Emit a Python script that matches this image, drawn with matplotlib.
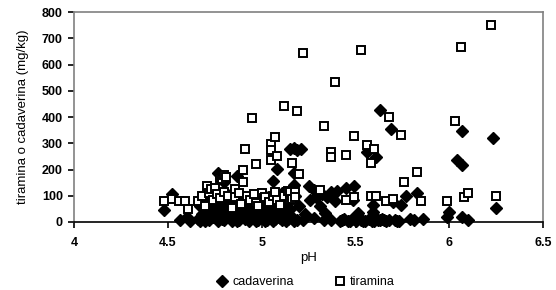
import numpy as np
import matplotlib
matplotlib.use("Agg")
from matplotlib import pyplot as plt
from matplotlib.ticker import FormatStrFormatter

plt.rcParams['font.family'] = ['Liberation Sans', 'DejaVu Sans']

# cadaverina (diamonds): pH, mg/kg
ph_cad = [4.48, 4.52, 4.565, 4.60, 4.62, 4.66, 4.68, 4.69, 4.70, 4.71, 4.72, 4.73, 4.74, 4.75,
          4.76, 4.77, 4.77, 4.78, 4.79, 4.80, 4.80, 4.81, 4.82, 4.83, 4.84, 4.85, 4.86, 4.87,
          4.87, 4.88, 4.89, 4.90, 4.91, 4.92, 4.93, 4.94, 4.95, 4.96, 4.97, 4.98, 4.99, 5.00,
          5.01, 5.02, 5.03, 5.04, 5.05, 5.06, 5.06, 5.07, 5.08, 5.08, 5.09, 5.10, 5.11, 5.12,
          5.13, 5.14, 5.15, 5.15, 5.16, 5.16, 5.17, 5.17, 5.17, 5.18, 5.19, 5.19, 5.20, 5.21,
          5.22, 5.23, 5.25, 5.26, 5.28, 5.28, 5.29, 5.31, 5.33, 5.34, 5.35, 5.37, 5.39, 5.40,
          5.42, 5.44, 5.45, 5.46, 5.48, 5.485, 5.49, 5.50, 5.515, 5.53, 5.55, 5.56, 5.57, 5.59,
          5.595, 5.595, 5.61, 5.62, 5.63, 5.64, 5.65, 5.68, 5.69, 5.70, 5.72, 5.74, 5.77, 5.79,
          5.81, 5.83, 5.86, 5.99, 6.00, 6.04, 6.07, 6.07, 6.07, 6.10, 6.23, 6.25,
          # dense bottom band and low cluster
          4.67, 4.69, 4.72, 4.74, 4.77, 4.79, 4.81, 4.84, 4.86, 4.88, 4.90, 4.93, 4.95, 4.98,
          5.00, 5.02, 5.04, 5.06, 5.09, 5.11, 5.14, 5.17, 5.43, 5.47, 5.51, 5.54, 5.58, 5.60,
          5.63, 5.66, 5.71, 5.73, 4.67, 4.70, 4.73, 4.76, 4.79, 4.82, 4.85, 4.88, 4.91, 4.94,
          4.97, 5.00, 5.03, 5.07, 5.12, 5.32, 5.37]
cad = [46, 107, 8, 20, 5, 12, 30, 80, 5, 55, 100, 18, 70, 40,
       10, 185, 90, 25, 60, 154, 8, 110, 45, 15, 75, 30, 95, 177,
       5, 55, 20, 85, 10, 40, 65, 12, 100, 30, 5, 50, 80, 15,
       35, 100, 8, 60, 25, 156, 90, 10, 201, 45, 70, 15, 110, 35,
       5, 85, 278, 50, 128, 20, 281, 188, 141, 100, 276, 8, 60, 280,
       8, 30, 137, 84, 14, 122, 96, 60, 8, 33, 96, 8, 80, 118,
       5, 10, 128, 3, 12, 84, 138, 5, 33, 8, 4, 265, 10, 5,
       65, 39, 249, 8, 427, 12, 8, 8, 353, 77, 5, 65, 100, 10,
       8, 109, 10, 20, 39, 236, 217, 348, 20, 8, 319, 52,
       3, 15, 6, 20, 4, 12, 22, 5, 15, 8, 25, 4, 18, 8,
       22, 5, 14, 3, 20, 6, 12, 4, 8, 3, 10, 5, 12, 4,
       7, 3, 9, 4, 60, 95, 50, 75, 100, 70, 110, 85, 60, 90,
       75, 60, 85, 70, 65, 105, 115]

# tiramina (open squares): pH, mg/kg
ph_tir = [4.48, 4.52, 4.56, 4.59, 4.61, 4.66, 4.68, 4.70, 4.71, 4.72, 4.73, 4.74, 4.75, 4.76,
          4.78, 4.78, 4.79, 4.80, 4.80, 4.81, 4.82, 4.84, 4.86, 4.86, 4.88, 4.89, 4.90, 4.90,
          4.91, 4.92, 4.94, 4.95, 4.96, 4.97, 4.97, 4.98, 5.00, 5.01, 5.02, 5.04, 5.05, 5.05,
          5.05, 5.06, 5.07, 5.07, 5.08, 5.08, 5.10, 5.12, 5.12, 5.14, 5.15, 5.15, 5.16, 5.16,
          5.18, 5.18, 5.19, 5.20, 5.22, 5.31, 5.33, 5.37, 5.37, 5.39, 5.45, 5.45, 5.49, 5.49,
          5.53, 5.56, 5.58, 5.58, 5.60, 5.61, 5.66, 5.68, 5.70, 5.74, 5.76, 5.83, 5.85, 5.99,
          6.03, 6.06, 6.08, 6.10, 6.22, 6.25]
tir = [80, 88, 80, 80, 48, 80, 100, 60, 138, 110, 125, 85, 128, 105,
       166, 90, 163, 179, 115, 173, 100, 55, 126, 95, 110, 70, 198, 154,
       278, 100, 85, 395, 105, 220, 71, 60, 110, 90, 95, 75, 297, 274,
       238, 100, 323, 113, 251, 85, 65, 442, 100, 120, 115, 84, 226, 88,
       115, 95, 423, 182, 644, 122, 366, 268, 249, 534, 255, 84, 328, 96,
       655, 293, 223, 99, 278, 99, 80, 400, 88, 331, 151, 189, 81, 81,
       386, 665, 94, 112, 750, 99]

fig = plt.figure(figsize=(5.56, 2.90), dpi=100)
ax = fig.add_axes([0.133, 0.2345, 0.844, 0.724])

ax.plot(ph_cad, cad, linestyle='none', marker='D', markersize=6,
        color='black', label='cadaverina', clip_on=False)
ax.plot(ph_tir, tir, linestyle='none', marker='s', markersize=5.2,
        markerfacecolor='white', markeredgecolor='black', markeredgewidth=1.4,
        label='tiramina', clip_on=False)

ax.set_xlim(4, 6.5)
ax.set_ylim(0, 800)
ax.set_xticks(np.arange(4, 6.51, 0.5))
ax.set_yticks(np.arange(0, 801, 100))
ax.xaxis.set_major_formatter(FormatStrFormatter('%g'))
ax.tick_params(direction='out', length=4.5, width=1.2, labelsize=9, color='black')
ax.tick_params(axis='x', pad=6)
ax.tick_params(axis='y', pad=3.5)
for lab in ax.get_xticklabels() + ax.get_yticklabels():
    lab.set_fontweight('bold')

for s in ['left', 'top', 'right']:
    ax.spines[s].set_color('#808080')
    ax.spines[s].set_linewidth(1.2)
ax.spines['bottom'].set_color('black')
ax.spines['bottom'].set_linewidth(1.2)

ax.set_xlabel('pH', fontsize=9.5, labelpad=2.5)
ax.set_ylabel('tiramina o cadaverina (mg/kg)', fontsize=9.5, labelpad=9)

fig.legend(loc='center', bbox_to_anchor=(0.549, 0.027), ncol=2, frameon=False,
           fontsize=9, handlelength=1, handletextpad=0.3, columnspacing=3.2)

fig.savefig('out.png', dpi=100)
